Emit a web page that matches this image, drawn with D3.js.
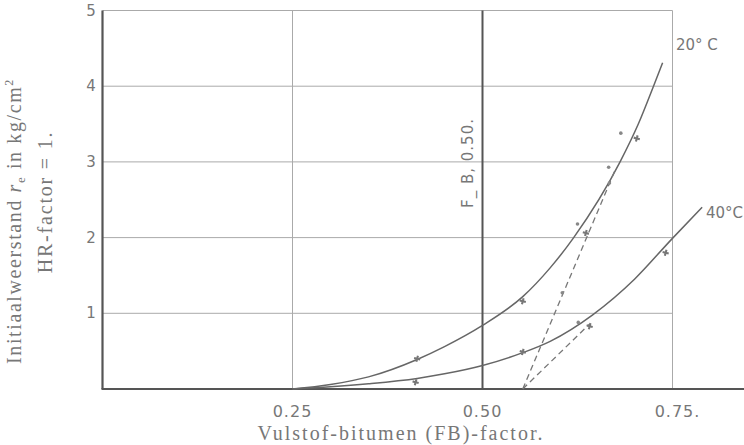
<!DOCTYPE html>
<html>
<head>
<meta charset="utf-8">
<script src="https://cdn.jsdelivr.net/npm/d3@7"></script>
<style>
  body { margin: 0; background: #fff; }
  svg { display: block; }
  .grid { stroke: #aaa; stroke-width: 1; fill: none; }
  .curve { stroke: #666; stroke-width: 1.5; fill: none; }
  .dash { stroke: #777; stroke-width: 1.3; fill: none; stroke-dasharray: 6,4; }
  .lbl { font-family: "DejaVu Sans", sans-serif; fill: #777; }
  .ser { font-family: "Liberation Serif", serif; fill: #777; }
</style>
</head>
<body>
<svg id="chart" width="744" height="445"></svg>
<script>
let svg = d3.select("#chart"),
    width = 744,
    height = 445;

// gelezen waarden
const xTicks = [0.25, 0.50, 0.75];
const xTickLabels = ["0.25", "0.50", "0.75."];
const yTicks = [1, 2, 3, 4, 5];

const curve20 = [[0.25, 0], [0.30, 0.06], [0.35, 0.16], [0.414, 0.39], [0.45, 0.56], [0.50, 0.84],
                 [0.553, 1.22], [0.589, 1.6], [0.62, 2.0], [0.681, 3.0], [0.705, 3.5], [0.725, 4.0], [0.737, 4.31]];
const curve40 = [[0.25, 0], [0.30, 0.03], [0.35, 0.07], [0.414, 0.14], [0.45, 0.2], [0.50, 0.31],
                 [0.553, 0.48], [0.589, 0.63], [0.645, 0.98], [0.70, 1.45], [0.749, 1.98], [0.789, 2.4]];
const dash20 = [[0.553, 0], [0.674, 2.88]];
const dash40 = [[0.553, 0], [0.641, 0.86]];

const plus20 = [[0.414, 0.40], [0.553, 1.16], [0.703, 3.31], [0.636, 2.06]];
const dots20 = [[0.625, 2.18], [0.666, 2.93], [0.682, 3.38], [0.605, 1.27], [0.667, 2.72]];
const plus40 = [[0.412, 0.09], [0.553, 0.49], [0.641, 0.83], [0.741, 1.8]];
const dots40 = [[0.626, 0.88]];

let x = d3.scaleLinear().domain([0, 0.75]).range([102.5, 672.5]);
let y = d3.scaleLinear().domain([0, 5]).range([389, 10.5]);

// rooster
svg.selectAll("line.h")
    .data(yTicks)
    .enter()
    .append("line")
    .attr("class", "grid")
    .attr("x1", x(0)).attr("x2", x(0.75))
    .attr("y1", d => y(d)).attr("y2", d => y(d));

svg.selectAll("line.v")
    .data(xTicks)
    .enter()
    .append("line")
    .attr("class", "grid")
    .attr("x1", d => x(d)).attr("x2", d => x(d))
    .attr("y1", y(5)).attr("y2", y(0))
    .style("stroke", d => d === 0.5 ? "#555" : "#aaa")
    .style("stroke-width", d => d === 0.5 ? 2 : 1);

// assen
svg.append("line")
    .attr("x1", x(0)).attr("x2", x(0))
    .attr("y1", y(5)).attr("y2", y(0))
    .style("stroke", "#555").style("stroke-width", 2.2);
svg.append("line")
    .attr("x1", x(0) - 1).attr("x2", width)
    .attr("y1", y(0)).attr("y2", y(0))
    .style("stroke", "#555").style("stroke-width", 2);

// labels
svg.selectAll("text.yt")
    .data(yTicks)
    .enter()
    .append("text")
    .attr("class", "lbl")
    .attr("x", 91)
    .attr("y", d => y(d) + 5)
    .attr("text-anchor", "middle")
    .attr("font-size", "15px")
    .text(d => d);

svg.selectAll("text.xt")
    .data(xTicks)
    .enter()
    .append("text")
    .attr("class", "lbl")
    .attr("x", (d, i) => x(d) + (i === 2 ? 5 : 0))
    .attr("y", 417)
    .attr("text-anchor", "middle")
    .attr("font-size", "16px")
    .attr("letter-spacing", "1px")
    .text((d, i) => xTickLabels[i]);

svg.append("text")
    .attr("class", "ser")
    .attr("x", 401).attr("y", 440)
    .attr("text-anchor", "middle")
    .attr("font-size", "20px")
    .attr("letter-spacing", "2px")
    .text("Vulstof-bitumen  (FB)-factor.");

let yl = svg.append("text")
    .attr("class", "ser")
    .attr("transform", "translate(21,221) rotate(-90)")
    .attr("text-anchor", "middle")
    .attr("font-size", "20px")
    .attr("letter-spacing", "1.6px");
yl.append("tspan").text("Initiaalweerstand ");
yl.append("tspan").attr("font-style", "italic").text("r");
yl.append("tspan").attr("font-size", "13px").attr("dy", 4).text("e");
yl.append("tspan").attr("dy", -4).text(" in kg/cm");
yl.append("tspan").attr("font-size", "12px").attr("dy", -8).text("2");

svg.append("text")
    .attr("class", "ser")
    .attr("transform", "translate(52,202) rotate(-90)")
    .attr("text-anchor", "middle")
    .attr("font-size", "20px")
    .attr("letter-spacing", "1.8px")
    .text("HR-factor  =  1.");

svg.append("text")
    .attr("class", "lbl")
    .attr("transform", "translate(473,163) rotate(-90)")
    .attr("text-anchor", "middle")
    .attr("font-size", "15px")
    .attr("letter-spacing", "1px")
    .text("F_ B, 0.50.");

svg.append("text")
    .attr("class", "lbl")
    .attr("x", 676).attr("y", 50)
    .attr("font-size", "15px")
    .text("20° C");
svg.append("text")
    .attr("class", "lbl")
    .attr("x", 706).attr("y", 218)
    .attr("font-size", "15px")
    .text("40°C");

// krommen
let line = d3.line()
    .x(d => x(d[0]))
    .y(d => y(d[1]))
    .curve(d3.curveMonotoneX);

svg.append("path").datum(curve20).attr("class", "curve").attr("d", line);
svg.append("path").datum(curve40).attr("class", "curve").attr("d", line);

let straight = d3.line().x(d => x(d[0])).y(d => y(d[1]));
svg.append("path").datum(dash20).attr("class", "dash").attr("d", straight);
svg.append("path").datum(dash40).attr("class", "dash").attr("d", straight);

// meetpunten
let plusPts = plus20.concat(plus40);
svg.selectAll("path.pt")
    .data(plusPts)
    .enter()
    .append("path")
    .attr("d", d3.symbol().type(d3.symbolCross).size(22))
    .attr("transform", d => "translate(" + x(d[0]) + "," + y(d[1]) + ") rotate(15)")
    .style("fill", "#777");

svg.selectAll("circle.dot")
    .data(dots20.concat(dots40))
    .enter()
    .append("circle")
    .attr("cx", d => x(d[0]))
    .attr("cy", d => y(d[1]))
    .attr("r", 1.8)
    .style("fill", "#888");
</script>
</body>
</html>
